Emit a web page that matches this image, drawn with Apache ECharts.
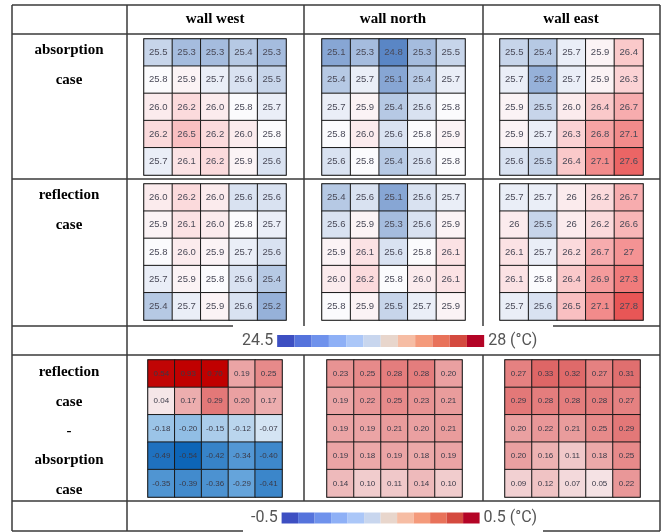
<!DOCTYPE html>
<html>
<head>
<meta charset="utf-8">
<title>wall temperature</title>
<script src="https://cdn.jsdelivr.net/npm/echarts@6/dist/echarts.min.js"></script>
<style>
  html, body { margin: 0; padding: 0; background: #fff; }
</style>
</head>
<body>
<div id="chart" style="width:669px;height:532px;"></div>
<script type="text/javascript">
// surface temperatures (°C), 5x5 per wall, row by row from top
var westAbs = [
  [25.5, 25.3, 25.3, 25.4, 25.3],
  [25.8, 25.9, 25.7, 25.6, 25.5],
  [26.0, 26.2, 26.0, 25.8, 25.7],
  [26.2, 26.5, 26.2, 26.0, 25.8],
  [25.7, 26.1, 26.2, 25.9, 25.6]
];
var northAbs = [
  [25.1, 25.3, 24.8, 25.3, 25.5],
  [25.4, 25.7, 25.1, 25.4, 25.7],
  [25.7, 25.9, 25.4, 25.6, 25.8],
  [25.8, 26.0, 25.6, 25.8, 25.9],
  [25.6, 25.8, 25.4, 25.6, 25.8]
];
var eastAbs = [
  [25.5, 25.4, 25.7, 25.9, 26.4],
  [25.7, 25.2, 25.7, 25.9, 26.3],
  [25.9, 25.5, 26.0, 26.4, 26.7],
  [25.9, 25.7, 26.3, 26.8, 27.1],
  [25.6, 25.5, 26.4, 27.1, 27.6]
];
var westRef = [
  [26.0, 26.2, 26.0, 25.6, 25.6],
  [25.9, 26.1, 26.0, 25.8, 25.7],
  [25.8, 26.0, 25.9, 25.7, 25.6],
  [25.7, 25.9, 25.8, 25.6, 25.4],
  [25.4, 25.7, 25.9, 25.6, 25.2]
];
var northRef = [
  [25.4, 25.6, 25.1, 25.6, 25.7],
  [25.6, 25.9, 25.3, 25.6, 25.9],
  [25.9, 26.1, 25.6, 25.8, 26.1],
  [26.0, 26.2, 25.8, 26.0, 26.1],
  [25.8, 25.9, 25.5, 25.7, 25.9]
];
var eastRef = [
  [25.7, 25.7, 26, 26.2, 26.7],
  [26, 25.5, 26, 26.2, 26.6],
  [26.1, 25.7, 26.2, 26.7, 27],
  [26.1, 25.8, 26.4, 26.9, 27.3],
  [25.7, 25.6, 26.5, 27.1, 27.8]
];
// reflection - absorption
var westDiff = [
  [0.54, 0.93, 0.70, 0.19, 0.25],
  [0.04, 0.17, 0.29, 0.20, 0.17],
  [-0.18, -0.20, -0.15, -0.12, -0.07],
  [-0.49, -0.54, -0.42, -0.34, -0.40],
  [-0.35, -0.39, -0.36, -0.29, -0.41]
];
var northDiff = [
  [0.23, 0.25, 0.28, 0.28, 0.20],
  [0.19, 0.22, 0.25, 0.23, 0.21],
  [0.19, 0.19, 0.21, 0.20, 0.21],
  [0.19, 0.18, 0.19, 0.18, 0.19],
  [0.14, 0.10, 0.11, 0.14, 0.10]
];
var eastDiff = [
  [0.27, 0.33, 0.32, 0.27, 0.31],
  [0.29, 0.28, 0.28, 0.28, 0.27],
  [0.20, 0.22, 0.21, 0.25, 0.29],
  [0.20, 0.16, 0.11, 0.18, 0.25],
  [0.09, 0.12, 0.07, 0.05, 0.22]
];

var walls = ['wall west', 'wall north', 'wall east'];
var cells = ['0', '1', '2', '3', '4'];
var tempRange = [24.5, 28];
var diffRange = [-0.5, 0.5];
var coolwarm = ['#3d4fc2', '#5573dc', '#6f92ec', '#8eb0f6', '#abc7f8', '#c8d6ee',
                '#e8d6cc', '#f6bda4', '#f49a7b', '#e8725a', '#d44a3f', '#b40426'];

var chart = echarts.init(document.getElementById('chart'));

// table cell boxes for the 9 heat maps
var boxes = [
  {left: 144, top: 39, width: 142, height: 136},
  {left: 322, top: 39, width: 143, height: 136},
  {left: 500, top: 39, width: 143, height: 136},
  {left: 144, top: 184, width: 142, height: 136},
  {left: 322, top: 184, width: 143, height: 136},
  {left: 500, top: 184, width: 143, height: 136},
  {left: 148, top: 360, width: 134, height: 137},
  {left: 327, top: 360, width: 135, height: 137},
  {left: 505, top: 360, width: 135, height: 137}
];
var sets = [westAbs, northAbs, eastAbs, westRef, northRef, eastRef, westDiff, northDiff, eastDiff];

function toTriples(m) {
  var out = [];
  for (var r = 0; r < m.length; r++) {
    for (var c = 0; c < m[r].length; c++) {
      out.push([c, r, m[r][c]]);
    }
  }
  return out;
}

var grids = [], xAxes = [], yAxes = [], series = [];
sets.forEach(function (m, i) {
  var isDiff = i >= 6;
  grids.push({
    left: boxes[i].left, top: boxes[i].top, width: boxes[i].width, height: boxes[i].height,
    show: true, borderColor: '#9a9a9a', borderWidth: 2, backgroundColor: 'transparent'
  });
  xAxes.push({type: 'category', gridIndex: i, data: cells, show: false});
  yAxes.push({type: 'category', gridIndex: i, data: cells, inverse: true, show: false});
  series.push({
    type: 'heatmap',
    xAxisIndex: i,
    yAxisIndex: i,
    data: toTriples(m),
    itemStyle: {borderColor: '#1a1a1a', borderWidth: 1},
    label: {
      show: true,
      fontSize: isDiff ? 8 : 9.5,
      fontFamily: 'Liberation Sans',
      color: isDiff ? '#3a3a48' : '#4a4a58',
      formatter: function (p) {
        var v = p.value[2];
        if (isDiff) return v.toFixed(2);
        if (i === 5) return String(v);
        return v.toFixed(1);
      }
    },
    emphasis: {disabled: true}
  });
});

// table rules
var lineStyle = {stroke: '#3a3a3a', lineWidth: 1.5};
function hl(x1, x2, y) { return {type: 'line', shape: {x1: x1, y1: y, x2: x2, y2: y}, style: lineStyle, silent: true}; }
function vl(x, y1, y2) { return {type: 'line', shape: {x1: x, y1: y1, x2: x, y2: y2}, style: lineStyle, silent: true}; }

var graphics = [
  hl(12, 660, 5), hl(12, 660, 34), hl(12, 660, 179),
  hl(12, 233, 326), hl(553, 660, 326),
  hl(12, 660, 355), hl(12, 660, 501),
  hl(12, 243, 531), hl(543, 660, 531),
  vl(12, 5, 531), vl(127, 5, 531), vl(660, 5, 531),
  vl(304, 5, 326), vl(483, 5, 326), vl(304, 355, 501), vl(483, 355, 501)
];

var headStyle = {font: 'bold 15px "Liberation Serif"', fill: '#000', align: 'center', verticalAlign: 'middle'};
var headX = [215, 393, 571];
walls.forEach(function (w, i) {
  graphics.push({type: 'text', x: headX[i], y: 19, style: Object.assign({text: w}, headStyle)});
});
var rowLabels = [
  ['absorption', 50], ['case', 80],
  ['reflection', 195], ['case', 225],
  ['reflection', 372], ['case', 402], ['-', 431], ['absorption', 460], ['case', 490]
];
rowLabels.forEach(function (t) {
  graphics.push({type: 'text', x: 69, y: t[1], style: Object.assign({text: t[0]}, headStyle)});
});

function barPieces(range) {
  var step = (range[1] - range[0]) / coolwarm.length;
  return coolwarm.map(function (c, k) {
    return {min: range[0] + k * step, max: range[0] + (k + 1) * step, color: c};
  });
}

var option = {
  backgroundColor: '#fff',
  animation: false,
  grid: grids,
  xAxis: xAxes,
  yAxis: yAxes,
  visualMap: [
    {
      type: 'continuous', show: false, seriesIndex: [0, 1, 2, 3, 4, 5],
      min: 24.8, max: 27.8,
      inRange: {color: ['#5a86c5', '#a5bcde', '#fbfbfd', '#fbd2d4', '#f6a3a4', '#f07b7b', '#e85656']}
    },
    {
      type: 'continuous', show: false, seriesIndex: [6, 7, 8],
      min: -0.55, max: 0.55,
      inRange: {color: ['#0a62b6', '#6aa8dd', '#f8f8fa', '#e57f7f', '#c00000']}
    },
    {
      type: 'piecewise', seriesIndex: [], orient: 'horizontal',
      left: 227, top: 318, itemWidth: 17.25, itemHeight: 12, itemGap: 0, itemSymbol: 'rect',
      text: [' 28 (°C)', '24.5 '], selectedMode: false, hoverLink: false,
      textStyle: {fontSize: 16, color: '#555', fontFamily: 'Roboto'},
      pieces: barPieces(tempRange)
    },
    {
      type: 'piecewise', seriesIndex: [], orient: 'horizontal',
      left: 236, top: 495, itemWidth: 16.5, itemHeight: 11, itemGap: 0, itemSymbol: 'rect',
      text: [' 0.5 (°C)', '-0.5 '], selectedMode: false, hoverLink: false,
      textStyle: {fontSize: 16, color: '#555', fontFamily: 'Roboto'},
      pieces: barPieces(diffRange)
    }
  ],
  graphic: graphics,
  series: series
};

chart.setOption(option);
</script>
</body>
</html>
